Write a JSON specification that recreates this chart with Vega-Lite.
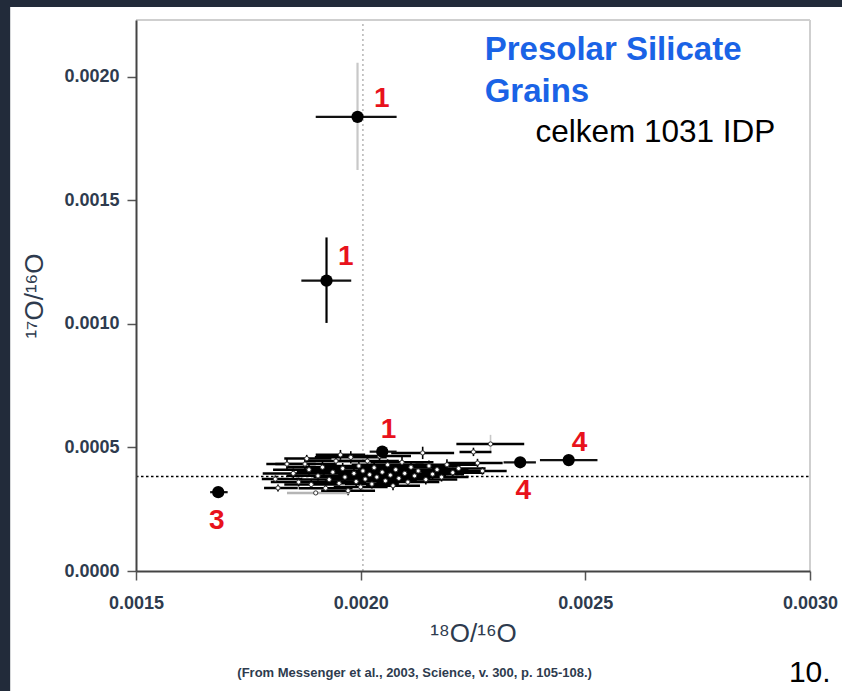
{
  "$schema": "https://vega.github.io/schema/vega-lite/v6.json",
  "width": 674,
  "height": 551,
  "autosize": {"type": "none"},
  "padding": {"left": 136, "top": 20, "right": 32, "bottom": 120},
  "background": "#222b3a",
  "config": {"view": {"stroke": null}, "font": "Liberation Sans"},
  "data": {"values": [{}]},
  "datasets": {
    "cluster": [
      {"x": 0.001810, "y": 0.000372, "xlo": 0.001780, "xhi": 0.001870, "ylo": 0.000357, "yhi": 0.000387, "kind": "a"},
      {"x": 0.001816, "y": 0.000336, "xlo": 0.001785, "xhi": 0.001860, "ylo": 0.000322, "yhi": 0.000350, "kind": "a"},
      {"x": 0.001836, "y": 0.000433, "xlo": 0.001790, "xhi": 0.001900, "ylo": 0.000413, "yhi": 0.000453, "kind": "a"},
      {"x": 0.001850, "y": 0.000395, "xlo": 0.001782, "xhi": 0.001920, "ylo": 0.000375, "yhi": 0.000415, "kind": "a"},
      {"x": 0.001862, "y": 0.000360, "xlo": 0.001800, "xhi": 0.001925, "ylo": 0.000342, "yhi": 0.000378, "kind": "a"},
      {"x": 0.001876, "y": 0.000433, "xlo": 0.001810, "xhi": 0.001945, "ylo": 0.000411, "yhi": 0.000455, "kind": "a"},
      {"x": 0.001885, "y": 0.000410, "xlo": 0.001805, "xhi": 0.001965, "ylo": 0.000390, "yhi": 0.000430, "kind": "a"},
      {"x": 0.001890, "y": 0.000350, "xlo": 0.001830, "xhi": 0.001950, "ylo": 0.000332, "yhi": 0.000368, "kind": "a"},
      {"x": 0.001900, "y": 0.000316, "xlo": 0.001836, "xhi": 0.001976, "ylo": 0.000310, "yhi": 0.000322, "kind": "b"},
      {"x": 0.001905, "y": 0.000385, "xlo": 0.001835, "xhi": 0.001975, "ylo": 0.000365, "yhi": 0.000405, "kind": "a"},
      {"x": 0.001915, "y": 0.000420, "xlo": 0.001835, "xhi": 0.001995, "ylo": 0.000398, "yhi": 0.000442, "kind": "a"},
      {"x": 0.001922, "y": 0.000335, "xlo": 0.001862, "xhi": 0.001982, "ylo": 0.000317, "yhi": 0.000353, "kind": "a"},
      {"x": 0.001930, "y": 0.000370, "xlo": 0.001860, "xhi": 0.002000, "ylo": 0.000350, "yhi": 0.000390, "kind": "a"},
      {"x": 0.001938, "y": 0.000400, "xlo": 0.001858, "xhi": 0.002018, "ylo": 0.000380, "yhi": 0.000420, "kind": "a"},
      {"x": 0.001945, "y": 0.000445, "xlo": 0.001875, "xhi": 0.002015, "ylo": 0.000420, "yhi": 0.000470, "kind": "a"},
      {"x": 0.001952, "y": 0.000355, "xlo": 0.001892, "xhi": 0.002012, "ylo": 0.000337, "yhi": 0.000373, "kind": "a"},
      {"x": 0.001960, "y": 0.000415, "xlo": 0.001880, "xhi": 0.002040, "ylo": 0.000393, "yhi": 0.000437, "kind": "a"},
      {"x": 0.001965, "y": 0.000380, "xlo": 0.001895, "xhi": 0.002035, "ylo": 0.000360, "yhi": 0.000400, "kind": "a"},
      {"x": 0.001972, "y": 0.000325, "xlo": 0.001912, "xhi": 0.002032, "ylo": 0.000307, "yhi": 0.000343, "kind": "a"},
      {"x": 0.001978, "y": 0.000460, "xlo": 0.001898, "xhi": 0.002058, "ylo": 0.000435, "yhi": 0.000485, "kind": "a"},
      {"x": 0.001985, "y": 0.000395, "xlo": 0.001915, "xhi": 0.002055, "ylo": 0.000375, "yhi": 0.000415, "kind": "a"},
      {"x": 0.001990, "y": 0.000362, "xlo": 0.001920, "xhi": 0.002060, "ylo": 0.000342, "yhi": 0.000382, "kind": "a"},
      {"x": 0.001996, "y": 0.000425, "xlo": 0.001916, "xhi": 0.002076, "ylo": 0.000403, "yhi": 0.000447, "kind": "a"},
      {"x": 0.002000, "y": 0.000340, "xlo": 0.001940, "xhi": 0.002060, "ylo": 0.000322, "yhi": 0.000358, "kind": "a"},
      {"x": 0.002005, "y": 0.000405, "xlo": 0.001935, "xhi": 0.002075, "ylo": 0.000385, "yhi": 0.000425, "kind": "a"},
      {"x": 0.002010, "y": 0.000372, "xlo": 0.001930, "xhi": 0.002090, "ylo": 0.000352, "yhi": 0.000392, "kind": "a"},
      {"x": 0.002015, "y": 0.000445, "xlo": 0.001945, "xhi": 0.002085, "ylo": 0.000420, "yhi": 0.000470, "kind": "a"},
      {"x": 0.002020, "y": 0.000390, "xlo": 0.001950, "xhi": 0.002090, "ylo": 0.000370, "yhi": 0.000410, "kind": "a"},
      {"x": 0.002025, "y": 0.000352, "xlo": 0.001965, "xhi": 0.002085, "ylo": 0.000334, "yhi": 0.000370, "kind": "a"},
      {"x": 0.002030, "y": 0.000418, "xlo": 0.001950, "xhi": 0.002110, "ylo": 0.000396, "yhi": 0.000440, "kind": "a"},
      {"x": 0.002036, "y": 0.000380, "xlo": 0.001966, "xhi": 0.002106, "ylo": 0.000360, "yhi": 0.000400, "kind": "a"},
      {"x": 0.002042, "y": 0.000465, "xlo": 0.001972, "xhi": 0.002112, "ylo": 0.000440, "yhi": 0.000490, "kind": "a"},
      {"x": 0.002048, "y": 0.000400, "xlo": 0.001968, "xhi": 0.002128, "ylo": 0.000380, "yhi": 0.000420, "kind": "a"},
      {"x": 0.002055, "y": 0.000365, "xlo": 0.001985, "xhi": 0.002125, "ylo": 0.000345, "yhi": 0.000385, "kind": "a"},
      {"x": 0.002060, "y": 0.000430, "xlo": 0.001980, "xhi": 0.002140, "ylo": 0.000408, "yhi": 0.000452, "kind": "a"},
      {"x": 0.002066, "y": 0.000388, "xlo": 0.001996, "xhi": 0.002136, "ylo": 0.000368, "yhi": 0.000408, "kind": "a"},
      {"x": 0.002072, "y": 0.000345, "xlo": 0.002012, "xhi": 0.002132, "ylo": 0.000327, "yhi": 0.000363, "kind": "a"},
      {"x": 0.002078, "y": 0.000410, "xlo": 0.001998, "xhi": 0.002158, "ylo": 0.000388, "yhi": 0.000432, "kind": "a"},
      {"x": 0.002085, "y": 0.000375, "xlo": 0.002015, "xhi": 0.002155, "ylo": 0.000355, "yhi": 0.000395, "kind": "a"},
      {"x": 0.002092, "y": 0.000440, "xlo": 0.002022, "xhi": 0.002162, "ylo": 0.000415, "yhi": 0.000465, "kind": "a"},
      {"x": 0.002098, "y": 0.000395, "xlo": 0.002018, "xhi": 0.002178, "ylo": 0.000375, "yhi": 0.000415, "kind": "a"},
      {"x": 0.002105, "y": 0.000360, "xlo": 0.002035, "xhi": 0.002175, "ylo": 0.000340, "yhi": 0.000380, "kind": "a"},
      {"x": 0.002112, "y": 0.000420, "xlo": 0.002032, "xhi": 0.002192, "ylo": 0.000398, "yhi": 0.000442, "kind": "a"},
      {"x": 0.002120, "y": 0.000385, "xlo": 0.002050, "xhi": 0.002190, "ylo": 0.000365, "yhi": 0.000405, "kind": "a"},
      {"x": 0.002128, "y": 0.000405, "xlo": 0.002048, "xhi": 0.002208, "ylo": 0.000385, "yhi": 0.000425, "kind": "a"},
      {"x": 0.002138, "y": 0.000478, "xlo": 0.002068, "xhi": 0.002208, "ylo": 0.000453, "yhi": 0.000503, "kind": "a"},
      {"x": 0.002145, "y": 0.000370, "xlo": 0.002075, "xhi": 0.002215, "ylo": 0.000350, "yhi": 0.000390, "kind": "a"},
      {"x": 0.002152, "y": 0.000425, "xlo": 0.002082, "xhi": 0.002222, "ylo": 0.000403, "yhi": 0.000447, "kind": "a"},
      {"x": 0.002160, "y": 0.000392, "xlo": 0.002090, "xhi": 0.002230, "ylo": 0.000372, "yhi": 0.000412, "kind": "a"},
      {"x": 0.002170, "y": 0.000410, "xlo": 0.002100, "xhi": 0.002240, "ylo": 0.000390, "yhi": 0.000430, "kind": "a"},
      {"x": 0.002180, "y": 0.000380, "xlo": 0.002120, "xhi": 0.002240, "ylo": 0.000362, "yhi": 0.000398, "kind": "a"},
      {"x": 0.002192, "y": 0.000430, "xlo": 0.002122, "xhi": 0.002262, "ylo": 0.000408, "yhi": 0.000452, "kind": "a"},
      {"x": 0.002205, "y": 0.000398, "xlo": 0.002135, "xhi": 0.002275, "ylo": 0.000378, "yhi": 0.000418, "kind": "a"},
      {"x": 0.002218, "y": 0.000415, "xlo": 0.002158, "xhi": 0.002278, "ylo": 0.000395, "yhi": 0.000435, "kind": "a"},
      {"x": 0.002251, "y": 0.000482, "xlo": 0.002220, "xhi": 0.002291, "ylo": 0.000465, "yhi": 0.000499, "kind": "a"},
      {"x": 0.002260, "y": 0.000437, "xlo": 0.002190, "xhi": 0.002316, "ylo": 0.000420, "yhi": 0.000454, "kind": "a"},
      {"x": 0.002271, "y": 0.000405, "xlo": 0.002200, "xhi": 0.002325, "ylo": 0.000390, "yhi": 0.000420, "kind": "a"},
      {"x": 0.002289, "y": 0.000514, "xlo": 0.002213, "xhi": 0.002364, "ylo": 0.000478, "yhi": 0.000551, "kind": "c"},
      {"x": 0.001955, "y": 0.000470, "xlo": 0.001900, "xhi": 0.002010, "ylo": 0.000450, "yhi": 0.000490, "kind": "a"},
      {"x": 0.001880, "y": 0.000455, "xlo": 0.001830, "xhi": 0.001935, "ylo": 0.000440, "yhi": 0.000470, "kind": "a"}
    ],
    "grains": [
      {"x": 0.001993, "y": 0.001838, "xlo": 0.001900, "xhi": 0.002080, "ylo": 0.001623, "yhi": 0.002057, "kind": "c"},
      {"x": 0.001924, "y": 0.001175, "xlo": 0.001868, "xhi": 0.001979, "ylo": 0.001004, "yhi": 0.001350, "kind": "a"},
      {"x": 0.002048, "y": 0.000483, "xlo": 0.002020, "xhi": 0.002080, "ylo": 0.000483, "yhi": 0.000483, "kind": "a"},
      {"x": 0.001683, "y": 0.000319, "xlo": 0.001665, "xhi": 0.001704, "ylo": 0.000319, "yhi": 0.000319, "kind": "a"},
      {"x": 0.002355, "y": 0.000440, "xlo": 0.002318, "xhi": 0.002390, "ylo": 0.000440, "yhi": 0.000440, "kind": "a"},
      {"x": 0.002463, "y": 0.000449, "xlo": 0.002399, "xhi": 0.002527, "ylo": 0.000449, "yhi": 0.000449, "kind": "a"}
    ],
    "labels": [
      {"x": 0.002047, "y": 0.001911, "text": "1"},
      {"x": 0.001967, "y": 0.001271, "text": "1"},
      {"x": 0.002062, "y": 0.000571, "text": "1"},
      {"x": 0.001680, "y": 0.000202, "text": "3"},
      {"x": 0.002487, "y": 0.000518, "text": "4"},
      {"x": 0.002362, "y": 0.000324, "text": "4"}
    ]
  },
  "layer": [
    {
      "mark": {"type": "rect", "color": "white"},
      "encoding": {
        "x": {"datum": 0.00122, "type": "quantitative", "scale": {"domain": [0.0015, 0.003], "zero": false, "nice": false},
          "axis": {"values": [0.0015, 0.002, 0.0025, 0.003], "format": ".4f", "title": "¹⁸O/¹⁶O", "grid": false, "zindex": 1,
            "labelFont": "Liberation Sans", "labelFontWeight": "bold", "labelFontSize": 18, "labelColor": "#2e3b4e", "labelFlush": false, "labelPadding": 14,
            "tickColor": "#555555", "tickSize": 9, "tickWidth": 1.5, "domainColor": "#444444", "domainWidth": 2,
            "titleFont": "Liberation Sans", "titleFontSize": 26, "titleFontWeight": "normal", "titleColor": "#2e3b4e", "titlePadding": 8}},
        "x2": {"datum": 0.0031},
        "y": {"datum": 0.002283, "type": "quantitative", "scale": {"domain": [0, 0.00223], "nice": false, "zero": false},
          "axis": {"values": [0, 0.0005, 0.001, 0.0015, 0.002], "format": ".4f", "title": "¹⁷O/¹⁶O", "grid": false, "zindex": 1,
            "labelFont": "Liberation Sans", "labelFontWeight": "bold", "labelFontSize": 18, "labelColor": "#2e3b4e", "labelPadding": 8,
            "tickColor": "#555555", "tickSize": 9, "tickWidth": 1.5, "domainColor": "#444444", "domainWidth": 2,
            "titleFont": "Liberation Sans", "titleFontSize": 26, "titleFontWeight": "normal", "titleColor": "#2e3b4e", "titlePadding": 16}},
        "y2": {"datum": -0.00053}
      }
    },
    {
      "mark": {"type": "rule", "color": "#b5b5b5", "strokeDash": [2, 3], "strokeWidth": 1.5},
      "encoding": {"x": {"datum": 0.002005}, "y": {"datum": 0}, "y2": {"datum": 0.00223}}
    },
    {
      "mark": {"type": "rule", "color": "#cfcfcf", "strokeWidth": 2},
      "encoding": {"x": {"datum": 0.0015}, "x2": {"datum": 0.003}, "y": {"datum": 0.00223}}
    },
    {
      "mark": {"type": "rule", "color": "#cfcfcf", "strokeWidth": 2},
      "encoding": {"x": {"datum": 0.003}, "y": {"datum": 0}, "y2": {"datum": 0.00223}}
    },
    {
      "mark": {"type": "rule", "color": "black", "strokeDash": [2.5, 2.5], "strokeWidth": 1.5},
      "encoding": {"x": {"datum": 0.0015}, "x2": {"datum": 0.003}, "y": {"datum": 0.000382}}
    },
    {
      "data": {"name": "cluster"},
      "mark": {"type": "rule", "strokeWidth": 1.6},
      "encoding": {
        "x": {"field": "x", "type": "quantitative"},
        "y": {"field": "ylo", "type": "quantitative"},
        "y2": {"field": "yhi"},
        "stroke": {"field": "kind", "type": "nominal", "scale": {"domain": ["a", "b", "c"], "range": ["black", "#b5b5b5", "#c8c8c8"]}, "legend": null}
      }
    },
    {
      "data": {"name": "cluster"},
      "mark": {"type": "rule", "strokeWidth": 2.5},
      "encoding": {
        "x": {"field": "xlo", "type": "quantitative"},
        "x2": {"field": "xhi"},
        "y": {"field": "y", "type": "quantitative"},
        "color": {"field": "kind", "type": "nominal", "scale": {"domain": ["a", "b", "c"], "range": ["black", "#b5b5b5", "black"]}, "legend": null}
      }
    },
    {
      "data": {"name": "cluster"},
      "mark": {"type": "point", "shape": "circle", "filled": false, "fill": "white", "fillOpacity": 1, "stroke": "#333333", "strokeWidth": 1, "size": 18},
      "encoding": {
        "x": {"field": "x", "type": "quantitative"},
        "y": {"field": "y", "type": "quantitative"}
      }
    },
    {
      "data": {"name": "grains"},
      "mark": {"type": "rule", "strokeWidth": 2.2},
      "encoding": {
        "x": {"field": "x", "type": "quantitative"},
        "y": {"field": "ylo", "type": "quantitative"},
        "y2": {"field": "yhi"},
        "stroke": {"field": "kind", "type": "nominal", "legend": null}
      }
    },
    {
      "data": {"name": "grains"},
      "mark": {"type": "rule", "strokeWidth": 2.2, "color": "#111111"},
      "encoding": {
        "x": {"field": "xlo", "type": "quantitative"},
        "x2": {"field": "xhi"},
        "y": {"field": "y", "type": "quantitative"}
      }
    },
    {
      "data": {"name": "grains"},
      "mark": {"type": "circle", "color": "black", "opacity": 1, "size": 150},
      "encoding": {
        "x": {"field": "x", "type": "quantitative"},
        "y": {"field": "y", "type": "quantitative"}
      }
    },
    {
      "data": {"name": "labels"},
      "mark": {"type": "text", "color": "#e8121c", "font": "Liberation Sans", "fontWeight": "bold", "fontSize": 28, "align": "center", "baseline": "middle"},
      "encoding": {
        "x": {"field": "x", "type": "quantitative"},
        "y": {"field": "y", "type": "quantitative"},
        "text": {"field": "text"}
      }
    },
    {
      "mark": {"type": "text", "text": ["Presolar Silicate", "Grains"], "color": "#1a63e6", "font": "Liberation Sans", "fontWeight": "bold", "fontSize": 33, "lineHeight": 42, "align": "left", "baseline": "alphabetic"},
      "encoding": {"x": {"datum": 0.002276}, "y": {"datum": 0.002069}}
    },
    {
      "mark": {"type": "text", "text": "celkem 1031 IDP", "color": "black", "font": "Liberation Sans", "fontSize": 31.5, "align": "left", "baseline": "alphabetic"},
      "encoding": {"x": {"datum": 0.002389}, "y": {"datum": 0.001737}}
    },
    {
      "mark": {"type": "text", "text": "(From Messenger et al., 2003, Science, v. 300, p. 105-108.)", "color": "#2e3b4e", "font": "Liberation Sans", "fontWeight": "bold", "fontSize": 13, "align": "center", "baseline": "middle"},
      "encoding": {"x": {"datum": 0.00212}, "y": {"datum": -0.000413}}
    },
    {
      "mark": {"type": "text", "text": "10.", "color": "black", "font": "Liberation Sans", "fontSize": 30, "align": "left", "baseline": "middle"},
      "encoding": {"x": {"datum": 0.002953}, "y": {"datum": -0.000413}}
    }
  ]
}
